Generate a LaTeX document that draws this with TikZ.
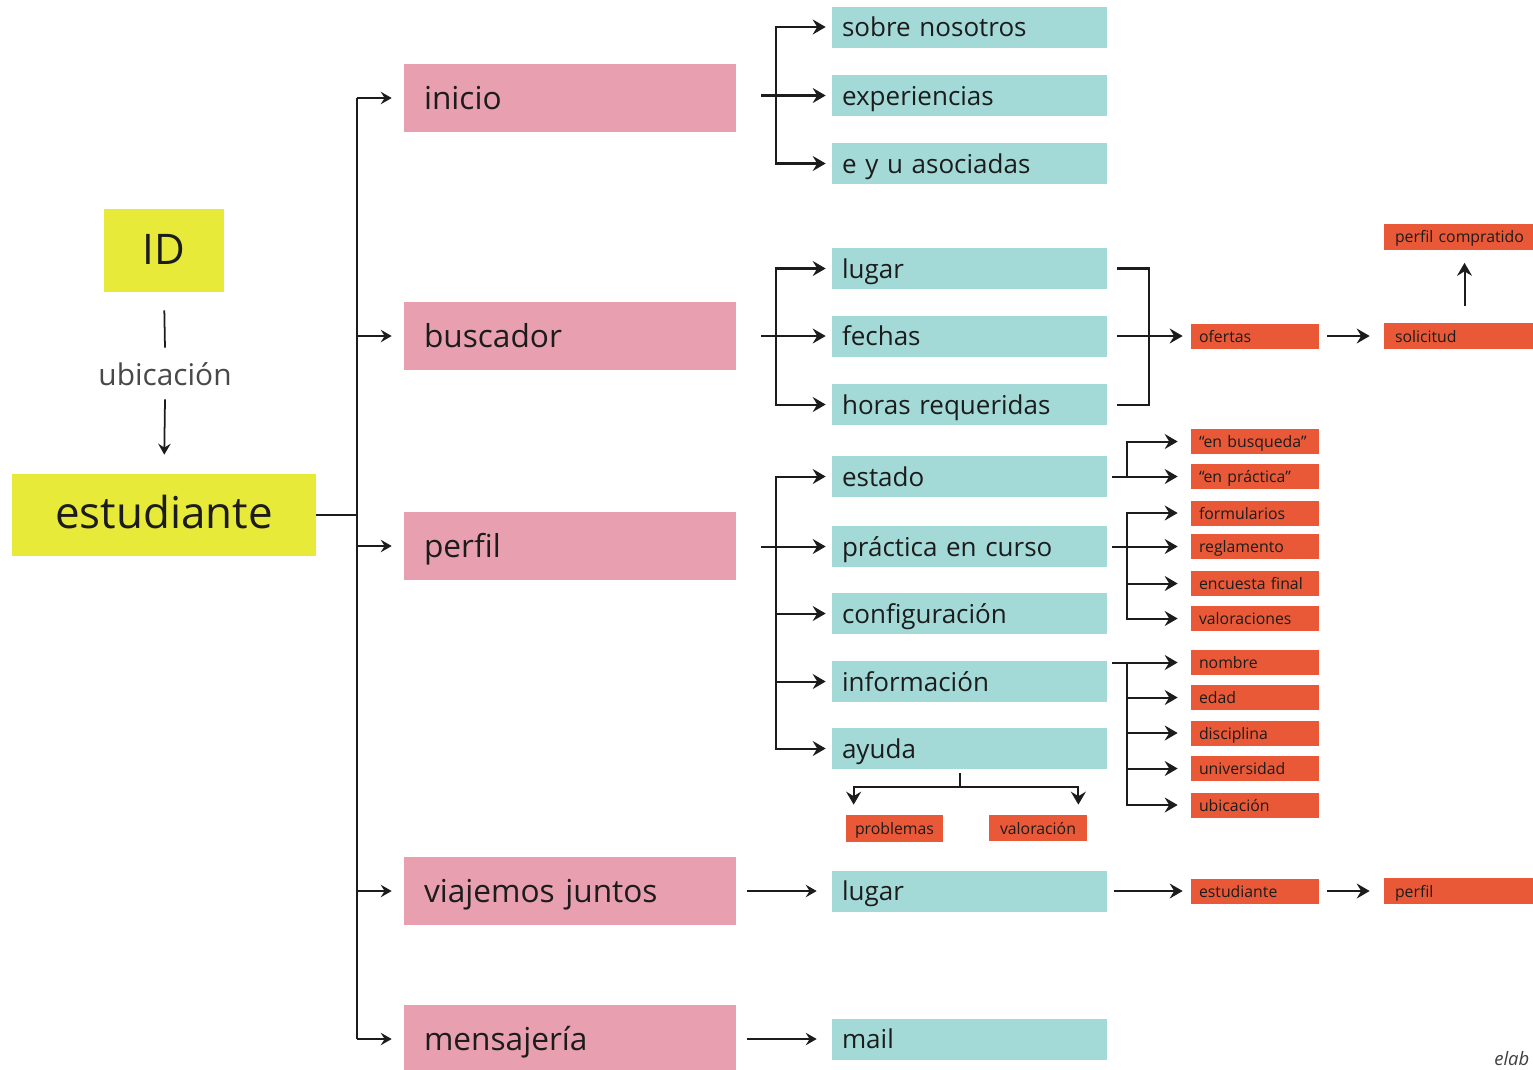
\documentclass[tikz,border=0pt]{standalone}
\usepackage{fontspec}
\setmainfont{Open Sans}
\usetikzlibrary{arrows.meta}
\definecolor{idyellow}{HTML}{E8EA3A}
\definecolor{secpink}{HTML}{E8A0B0}
\definecolor{subteal}{HTML}{A3DAD8}
\definecolor{leaforange}{HTML}{E95938}
\definecolor{inkc}{HTML}{1C1C1C}
\begin{document}
\begin{tikzpicture}[x=0.02cm,y=-0.02cm,
  base/.style={rectangle, inner ysep=0pt, text height=1.4em, text depth=0.1em, text=inkc},
  yellowbox/.style={base, text height=1.6em, text depth=0.05em, fill=idyellow, align=center, inner xsep=0pt},
  pinkbox/.style={base, fill=secpink, minimum height=1.36cm, inner xsep=0.4cm, text width=5.84cm, align=left, font=\fontsize{18}{20}\selectfont},
  tealbox/.style={base, text height=1.22em, fill=subteal, minimum height=0.82cm, inner xsep=0.2cm, text width=5.1cm, align=left, font=\fontsize{14.8}{17}\selectfont},
  smallbase/.style={rectangle, inner ysep=0pt, text height=0.95em, text depth=0.25em, text=inkc, fill=leaforange, font=\fontsize{9}{10}\selectfont},
  orangebox/.style={smallbase, minimum height=0.5cm, inner xsep=0.16cm, text width=2.24cm, align=left},
  orangewide/.style={smallbase, minimum height=0.52cm, inner xsep=0.22cm, text width=2.78cm, align=left},
  orangesmall/.style={smallbase, minimum height=0.54cm, minimum width=1.95cm, inner xsep=0pt, align=center},
  ln/.style={draw=inkc, line width=1.15pt},
  arr/.style={ln, -{Stealth[length=0.26cm, width=0.3cm, inset=0.09cm]}, shorten >=0.12cm},
  arrthin/.style={draw=inkc, line width=1pt, -{Stealth[length=0.22cm, width=0.25cm, inset=0.08cm]}}
]
\useasboundingbox (0,0) rectangle (1533,1069);

% root column
\node[yellowbox, minimum width=2.4cm, minimum height=1.66cm, font=\fontsize{24}{26}\selectfont] (id) at (164,250.5) {ID};
\node[yellowbox, minimum width=6.08cm, minimum height=1.64cm, font=\fontsize{25}{28}\selectfont] (est) at (164,515) {estudiante};
\node[inner sep=0pt, minimum height=1.0cm, text=inkc!80, font=\fontsize{17}{19}\selectfont] (ulab) at (165,374) {ubicación};
\draw[ln, line width=1pt, shorten <=0.36cm, shorten >=0.02cm] (id.south) -- (ulab.north);
\draw[arrthin, shorten >=0.38cm] (ulab.south) -- (est.north);

% first level sections
\node[pinkbox] (inicio) at (570,98) {inicio};
\node[pinkbox] (busc) at (570,336) {buscador};
\node[pinkbox] (perfil) at (570,546) {perfil};
\node[pinkbox] (viaj) at (570,891) {viajemos juntos};
\node[pinkbox] (mens) at (570,1039) {mensajería};

% second level pages
\node[tealbox] (sobre) at (969.5,27) {sobre nosotros};
\node[tealbox] (exper) at (969.5,95.5) {experiencias};
\node[tealbox] (ecu) at (969.5,163.5) {e y u asociadas};
\node[tealbox] (lugar) at (969.5,268.5) {lugar};
\node[tealbox] (fechas) at (969.5,336) {fechas};
\node[tealbox] (horas) at (969.5,404.5) {horas requeridas};
\node[tealbox] (estado) at (969.5,476.5) {estado};
\node[tealbox] (prac) at (969.5,546.5) {práctica en curso};
\node[tealbox] (config) at (969.5,613.5) {configuración};
\node[tealbox] (info) at (969.5,681.5) {información};
\node[tealbox] (ayuda) at (969.5,748.5) {ayuda};
\node[tealbox] (lugarv) at (969.5,891) {lugar};
\node[tealbox] (mail) at (969.5,1039) {mail};

% third level items
\node[orangebox] (ofertas) at (1255,336) {ofertas};
\node[orangebox] (enbus) at (1255,441.5) {“en busqueda”};
\node[orangebox] (enprac) at (1255,476.5) {“en práctica”};
\node[orangebox] (form) at (1255,513) {formularios};
\node[orangebox] (regl) at (1255,546.5) {reglamento};
\node[orangebox] (encu) at (1255,583.5) {encuesta final};
\node[orangebox] (valor) at (1255,618.5) {valoraciones};
\node[orangebox] (nombre) at (1255,662.5) {nombre};
\node[orangebox] (edad) at (1255,697.5) {edad};
\node[orangebox] (disc) at (1255,733) {disciplina};
\node[orangebox] (univ) at (1255,768.5) {universidad};
\node[orangebox] (ubic) at (1255,805) {ubicación};
\node[orangebox] (estv) at (1255,891) {estudiante};
\node[orangewide] (pcomp) at (1464.5,236.5) {perfil compratido};
\node[orangewide] (solic) at (1464.5,336) {solicitud};
\node[orangewide] (perfv) at (1464.5,891) {perfil};
\node[orangesmall, minimum width=1.94cm] (probl) at (894.5,828.5) {problemas};
\node[orangesmall, minimum width=1.96cm, minimum height=0.52cm] (valora) at (1038,828) {valoración};

\node[anchor=base west, inner sep=0pt, text=inkc!85, font=\fontsize{10.5}{12}\selectfont\itshape] (elab) at (1494,1065) {elab};

% branch guides
\coordinate (tr) at (357,515);
\coordinate (hb) at (776,0);
\coordinate (hs) at (761,0);
\coordinate (rb) at (1149,0);
\coordinate (ob) at (1127,0);

% trunk
\draw[ln] (est.east) -- (tr);
\draw[ln] (tr |- inicio.west) -- (tr |- mens.west);
\foreach \n in {inicio,busc,perfil,viaj,mens}
  \draw[arrthin, line width=1.15pt, shorten >=0.24cm] (tr |- \n.west) -- (\n.west);

% inicio
\draw[arr] (hs |- exper.west) -- (exper.west);
\draw[arr] (hb |- exper.west) |- (sobre.west);
\draw[arr] (hb |- exper.west) |- (ecu.west);

% buscador
\draw[arr] (hs |- fechas.west) -- (fechas.west);
\draw[arr] (hb |- fechas.west) |- (lugar.west);
\draw[arr] (hb |- fechas.west) |- (horas.west);
\draw[ln] ([xshift=0.2cm]lugar.east) -- (rb |- lugar.east) -- (rb |- horas.east) -- ([xshift=0.2cm]horas.east);
\draw[arr, shorten <=0.2cm, shorten >=0.16cm] (fechas.east) -- (ofertas.west);
\draw[arr, shorten <=0.16cm, shorten >=0.28cm] (ofertas.east) -- (solic.west);
\draw[arr, shorten <=0.34cm, shorten >=0.26cm] (solic.north) -- (pcomp.south);

% perfil
\draw[arr] (hs |- prac.west) -- (prac.west);
\draw[arr] (hb |- prac.west) |- (estado.west);
\draw[arr] (hb |- prac.west) |- (ayuda.west);
\draw[arr] (hb |- config.west) -- (config.west);
\draw[arr] (hb |- info.west) -- (info.west);

% estado
\draw[arr, shorten <=0.1cm, shorten >=0.26cm] (estado.east) -- (enprac.west);
\draw[arr, shorten >=0.26cm] (ob |- enprac.west) |- (enbus.west);

% práctica en curso
\draw[arr, shorten <=0.1cm, shorten >=0.26cm] (prac.east) -- (regl.west);
\draw[arr, shorten >=0.26cm] (ob |- regl.west) |- (form.west);
\draw[arr, shorten >=0.26cm] (ob |- regl.west) |- (valor.west);
\draw[arr, shorten >=0.26cm] (ob |- encu.west) -- (encu.west);

% información
\coordinate (ie) at ([xshift=0.1cm]info.east);
\draw[arr, shorten >=0.26cm] (ie |- nombre.west) -- (nombre.west);
\draw[arr, shorten >=0.26cm] (ob |- nombre.west) |- (ubic.west);
\foreach \n in {edad,disc,univ}
  \draw[arr, shorten >=0.26cm] (ob |- \n.west) -- (\n.west);

% ayuda
\coordinate (aj) at (960,787);
\draw[ln, shorten <=0.08cm] (aj |- ayuda.south) -- (aj);
\draw[arr, shorten >=0.2cm] (aj) -| ([xshift=0.16cm]probl.north west);
\draw[arr, shorten >=0.2cm] (aj) -| ([xshift=-0.18cm]valora.north east);

% viajemos juntos
\draw[arrthin, shorten <=0.22cm, shorten >=0.3cm] (viaj.east) -- (lugarv.west);
\draw[arr, shorten <=0.14cm, shorten >=0.16cm] (lugarv.east) -- (estv.west);
\draw[arr, shorten <=0.16cm, shorten >=0.28cm] (estv.east) -- (perfv.west);

% mensajería
\draw[arrthin, shorten <=0.22cm, shorten >=0.3cm] (mens.east) -- (mail.west);
\end{tikzpicture}
\end{document}
